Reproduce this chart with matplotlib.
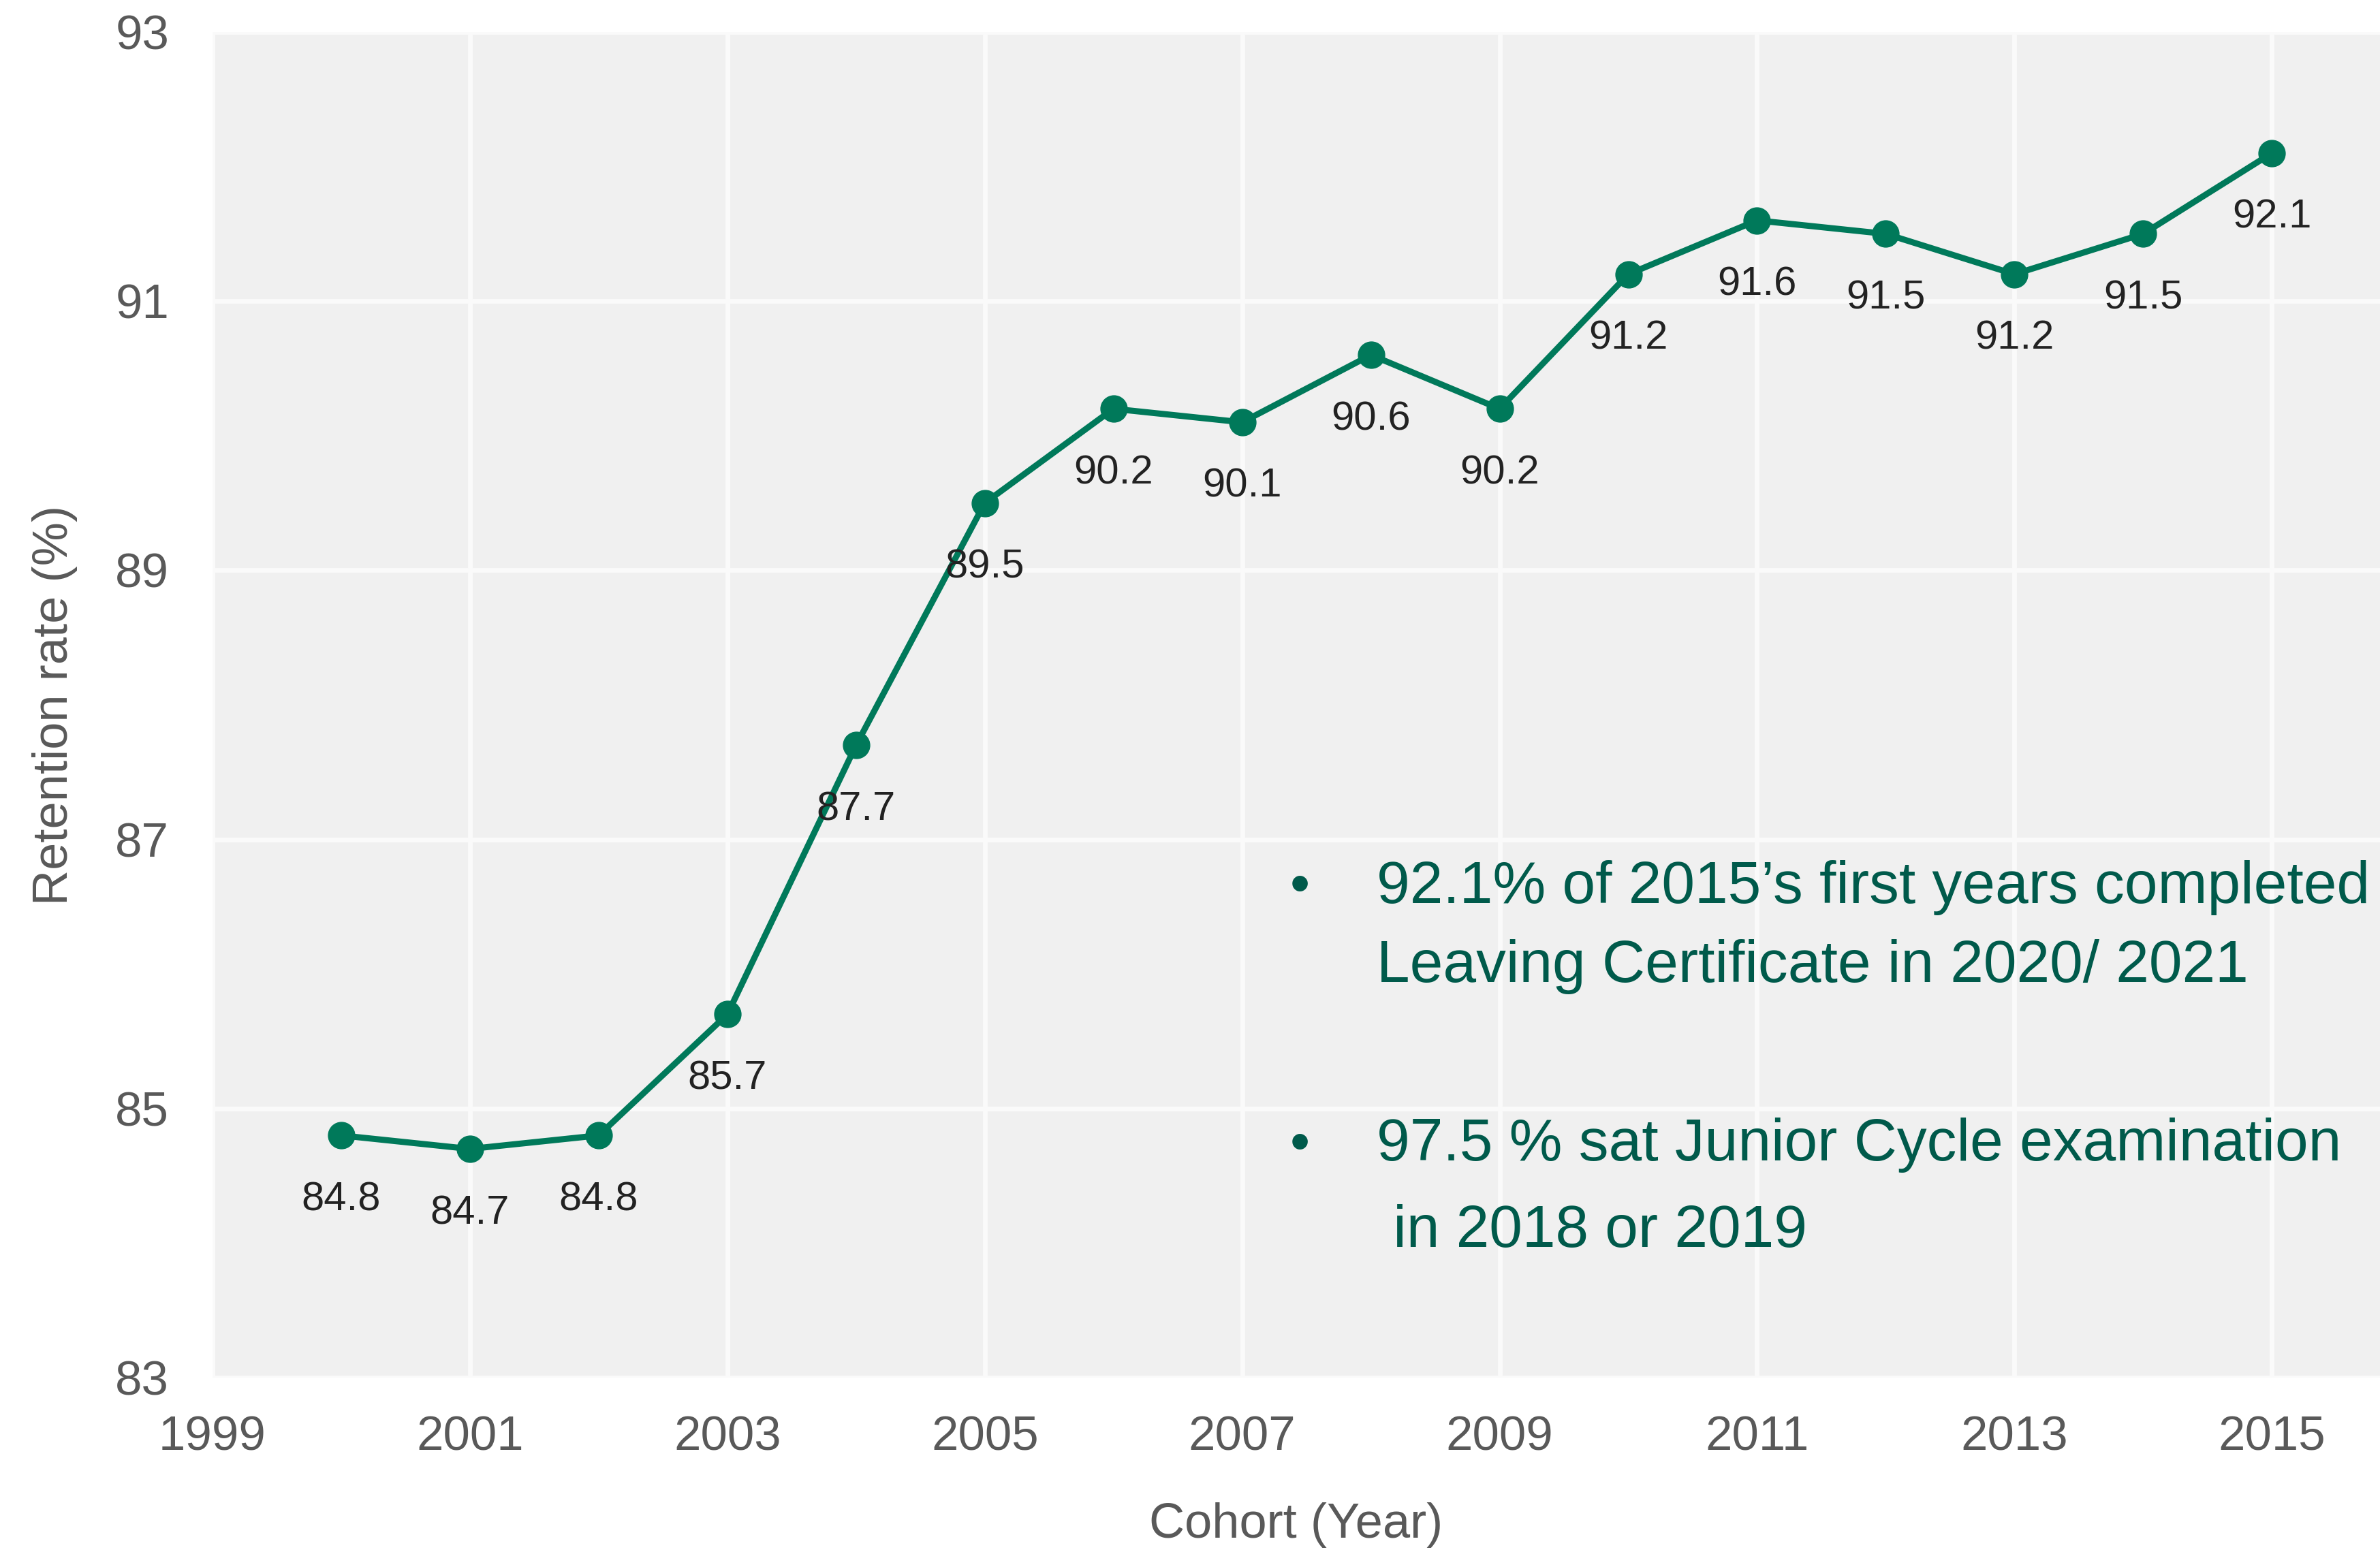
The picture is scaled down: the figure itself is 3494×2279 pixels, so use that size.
import matplotlib
matplotlib.use("Agg")
import matplotlib.pyplot as plt

years = [2000, 2001, 2002, 2003, 2004, 2005, 2006, 2007,
         2008, 2009, 2010, 2011, 2012, 2013, 2014, 2015]
retention = [84.8, 84.7, 84.8, 85.7, 87.7, 89.5, 90.2, 90.1,
             90.6, 90.2, 91.2, 91.6, 91.5, 91.2, 91.5, 92.1]
x_ticks = list(range(1999, 2016, 2))
y_ticks = list(range(83, 94, 2))
notes = ["92.1% of 2015\u2019s first years completed",
         "Leaving Certificate in 2020/ 2021",
         "97.5 % sat Junior Cycle examination",
         " in 2018 or 2019"]

plt.rcParams["font.family"] = ["Liberation Sans", "DejaVu Sans"]

W, H = 3494, 2279
fig = plt.figure(figsize=(W / 100, H / 100), dpi=100)
ax = fig.add_axes([312 / W, 1 - 2023 / H, 1 - 312 / W, (2023 - 47) / H])
ax.set_facecolor("#f0f0f0")
for s in ax.spines.values():
    s.set_visible(False)
ax.grid(True, color="#fafafa", linewidth=5)
ax.set_axisbelow(True)

green = "#00795a"
ax.plot(years, retention, color=green, linewidth=6.5, marker="o",
        markersize=28, zorder=3)
for x, y in zip(years, retention):
    ax.annotate(f"{y:.1f}", (x, y), xytext=(0, -68), textcoords="offset points",
                ha="center", va="center", fontsize=43, color="#222222")

ax.set_xlim(1999, 2015.84)
ax.set_ylim(83, 93)
ax.set_xticks(x_ticks)
ax.set_yticks(y_ticks)
ax.tick_params(length=0, labelsize=51, labelcolor="#595959")
ax.tick_params(axis="x", pad=40)
ax.tick_params(axis="y", pad=46)
ax.set_xlabel("Cohort (Year)", fontsize=52, color="#595959", labelpad=44)
ax.set_ylabel("Retention rate (%)", fontsize=52, color="#595959", labelpad=40)

note_color = "#005a4b"
fig.text(1908 / W, 1 - 1303 / H, "\u2022", fontsize=60, color=note_color,
         ha="center", va="center")
fig.text(1908 / W, 1 - 1682 / H, "\u2022", fontsize=60, color=note_color,
         ha="center", va="center")
for txt, ypx in zip(notes, [1303, 1419, 1682, 1809]):
    fig.text(2021 / W, 1 - ypx / H, txt, fontsize=63, color=note_color,
             ha="left", va="center")

fig.savefig("out.png", dpi=100)
